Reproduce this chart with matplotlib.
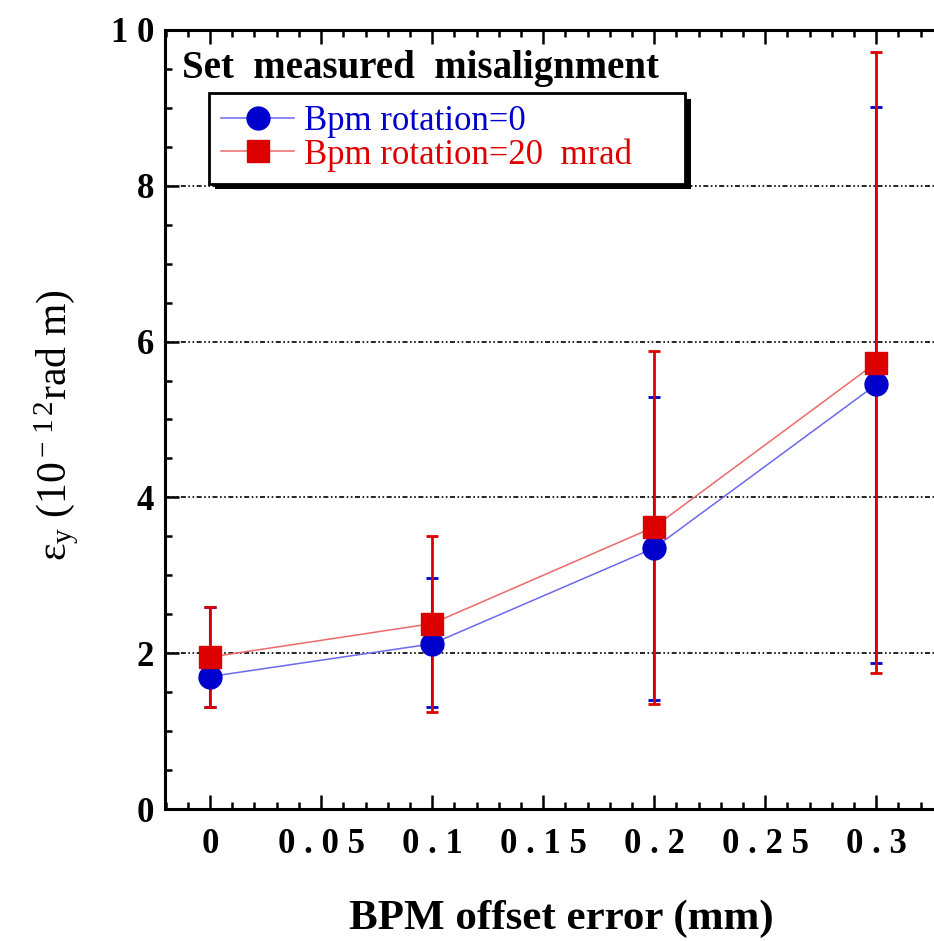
import matplotlib
matplotlib.use("Agg")
import matplotlib.pyplot as plt
import matplotlib.patheffects as pe
from matplotlib.ticker import MultipleLocator, FixedLocator, FixedFormatter

# ---- data ----
x = [0.0, 0.1, 0.2, 0.3]
blue_y = [1.70, 2.12, 3.35, 5.45]
blue_lo = [1.31, 1.31, 1.40, 1.87]
blue_hi = [2.59, 2.96, 5.29, 9.01]
red_y = [1.95, 2.38, 3.62, 5.73]
red_lo = [1.31, 1.25, 1.345, 1.74]
red_hi = [2.59, 3.51, 5.88, 9.72]
xtick_vals = [0, 0.05, 0.1, 0.15, 0.2, 0.25, 0.3]
xtick_labels = ["0", "0 . 0 5", "0 . 1", "0 . 1 5", "0 . 2", "0 . 2 5", "0 . 3"]
ytick_vals = [0, 2, 4, 6, 8, 10]
ytick_labels = ["0", "2", "4", "6", "8", "1 0"]
label_blue = "Bpm rotation=0"
label_red = "Bpm rotation=20  mrad"

plt.rcParams['font.family'] = ['Liberation Serif', 'DejaVu Serif']
plt.rcParams['mathtext.fontset'] = 'custom'
plt.rcParams['mathtext.rm'] = 'Liberation Serif'
plt.rcParams['mathtext.it'] = 'Liberation Serif:italic'
plt.rcParams['mathtext.bf'] = 'Liberation Serif:bold'

W, H = 934, 941
fig = plt.figure(figsize=(W/100, H/100), dpi=100)
AX_L, AX_B, AX_T = 165, 809, 30
ax = fig.add_axes([AX_L/W, (H-AX_B)/H, 1 - AX_L/W, (AX_B-AX_T)/H])
axw = W - AX_L
axh = AX_B - AX_T

BLUE = '#0000cc'
RED = '#dd0000'

def errs(y, lo, hi):
    return [[a - b for a, b in zip(y, lo)], [b - a for a, b in zip(y, hi)]]

ax.errorbar(x, blue_y, yerr=errs(blue_y, blue_lo, blue_hi), fmt='none',
            ecolor=BLUE, elinewidth=1.5, capsize=4.5, capthick=2.0, zorder=3)
ax.errorbar(x, red_y, yerr=errs(red_y, red_lo, red_hi), fmt='none',
            ecolor=RED, elinewidth=2.0, capsize=4.5, capthick=2.0, zorder=4)
ax.plot(x, blue_y, color='#6a6aee', lw=1.1, marker='o', ms=16.5,
        mfc=BLUE, mec=BLUE, zorder=5, label=label_blue)
ax.plot(x, red_y, color='#ee6a6a', lw=1.1, marker='s', ms=16,
        mfc=RED, mec=RED, zorder=6, label=label_red)

ax.set_xlim(-0.0203, 0.326)
ax.set_ylim(0, 10)

for gy in [2, 4, 6, 8]:
    ax.axhline(gy, color='black', lw=1.2, ls=(0, (3, 1.5, 1, 1.5, 1, 1.5)), zorder=1)

ax.xaxis.set_major_locator(FixedLocator(xtick_vals))
ax.xaxis.set_major_formatter(FixedFormatter(xtick_labels))
ax.xaxis.set_minor_locator(MultipleLocator(0.01))
ax.yaxis.set_major_locator(FixedLocator(ytick_vals))
ax.yaxis.set_major_formatter(FixedFormatter(ytick_labels))
ax.yaxis.set_minor_locator(MultipleLocator(0.5))

ax.tick_params(axis='both', which='both', direction='in', top=True, right=False,
               width=1.8, colors='black')
ax.tick_params(axis='both', which='major', length=10, labelsize=25)
ax.tick_params(axis='both', which='minor', length=5)
ax.tick_params(axis='x', which='major', pad=14)
ax.tick_params(axis='y', which='major', pad=8)
for lab in ax.get_xticklabels() + ax.get_yticklabels():
    lab.set_fontweight('bold')

for s in ['left', 'bottom', 'top']:
    ax.spines[s].set_linewidth(2.2)
ax.spines['right'].set_visible(False)

# axis labels placed in figure pixels
fig.text(561/W, 1 - 919/H, 'BPM offset error (mm)', fontsize=31, fontweight='bold',
         ha='center', va='center')
fig.text(57/W, 1 - 425/H, r'ε$_{\rm y}$ (10$^{\rm -\,1\,2}$rad m)', fontsize=30,
         rotation=90, ha='center', va='center')

ax.text(17/axw, (AX_B - 78)/axh, 'Set  measured  misalignment', transform=ax.transAxes,
        fontsize=28, fontweight='bold', ha='left', va='baseline')

leg = ax.legend(loc='upper left',
                bbox_to_anchor=((209-AX_L)/axw, (AX_B-187)/axh, 476/axw, 94/axh),
                mode='expand', fontsize=25, frameon=True, fancybox=False,
                framealpha=1.0, facecolor='white', edgecolor='black',
                handlelength=2.1, handletextpad=0.3, borderpad=0.35,
                labelspacing=0.0, borderaxespad=0)
frame = leg.get_frame()
frame.set_linewidth(2.0)
frame.set_path_effects([pe.SimplePatchShadow(offset=(4, -4), shadow_rgbFace='black',
                                             alpha=1.0), pe.Normal()])
for t, c in zip(leg.get_texts(), [BLUE, RED]):
    t.set_color(c)

fig.savefig('out.png', dpi=100)
